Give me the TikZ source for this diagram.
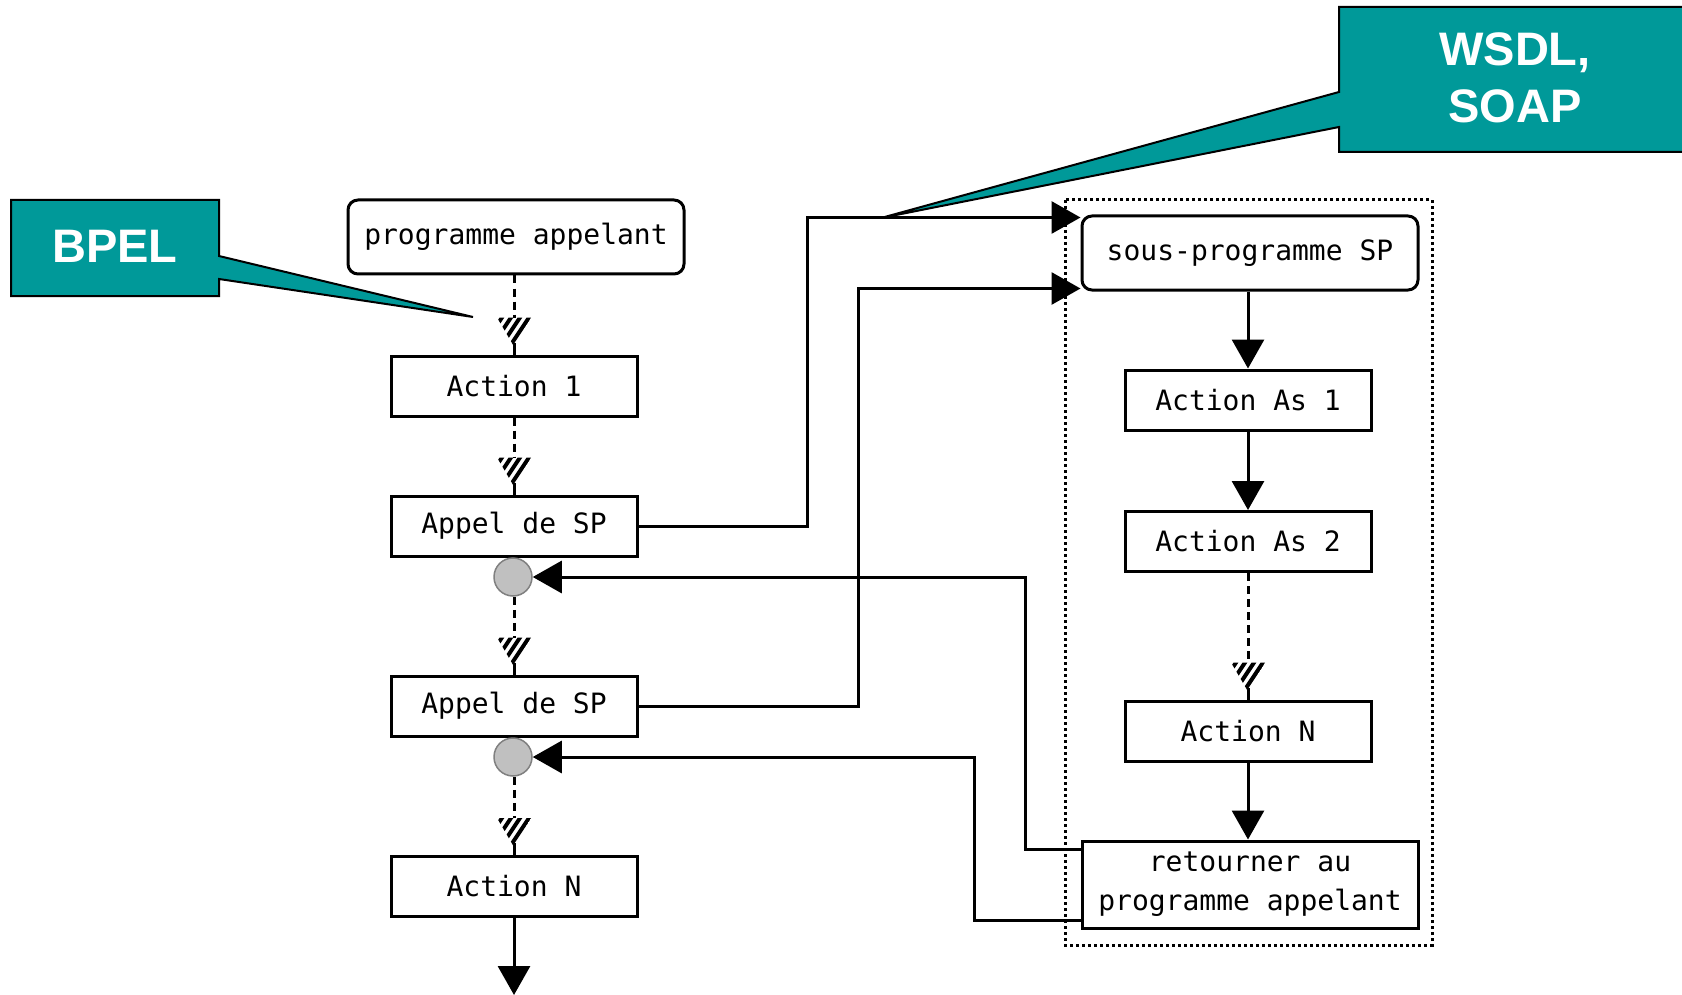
\documentclass[tikz,border=0pt]{standalone}
\usepackage{fontspec}
\setmainfont{Liberation Sans}
\newfontfamily\monof{DejaVu Sans Mono}
\usetikzlibrary{arrows.meta,calc}
\definecolor{tealc}{RGB}{0,153,153}
\definecolor{cgray}{RGB}{192,192,192}
\begin{document}
\begin{tikzpicture}[x={(1pt,0)},y={(0,-1pt)},
  box/.style={draw,line width=3pt,minimum width=246pt,minimum height=60pt,inner sep=0pt,
    font=\monof\fontsize{28}{39}\selectfont,align=center},
  rbox/.style={box,rounded corners=10pt,minimum width=336pt,minimum height=74pt},
  ln/.style={line width=3pt},
  dln/.style={line width=3pt,dash pattern=on 8pt off 5pt},
  arr/.style={line width=3pt,-{Triangle[length=29pt,width=32pt]}},
  dotc/.style={circle,fill=cgray,draw=gray,line width=1.5pt,minimum size=38pt,inner sep=0pt},
  callout/.style={fill=tealc,draw=black,line width=2pt},
  ctext/.style={text=white,font=\bfseries\fontsize{47}{57}\selectfont,align=center},
  hatchhead/.pic={
    \begin{scope}
      \clip (-17,-37) -- (17,-37) -- (0,-8) -- cycle;
      \foreach \k in {-34,-25,-16,-7,2,11}{
        \draw[line width=4pt] (\k,-4) -- (\k+24,-40);
      }
    \end{scope}
    \draw[line width=3pt] (0,-12) -- (0,0);
  }
]
\useasboundingbox (0,0) rectangle (1682,995);

% left column
\node[rbox] (prog) at (516,237) {programme appelant};
\node[box] (a1) at (514,386) {Action 1};
\node[box] (call1) at (514,526) {Appel de SP};
\node[dotc] (c1) at (513,577) {};
\node[box] (call2) at (514,706) {Appel de SP};
\node[dotc] (c2) at (513,757) {};
\node[box] (aN) at (514,886.5) {Action N};
\coordinate (endL) at (513,995);

% right column
\draw[line width=3pt,dash pattern=on 3pt off 3pt] (1065,200) rectangle (1432,945);
\node[rbox] (sp) at (1250,253) {sous-programme SP};
\node[box] (as1) at (1248,400) {Action As 1};
\node[box] (as2) at (1248,541.5) {Action As 2};
\node[box] (asN) at (1248,731) {Action N};
\node[box,minimum width=336pt,minimum height=87pt] (ret) at (1250,884.5) {retourner au\\programme appelant};

% left flow
\draw[dln] (prog.south -| a1.north) -- ($(a1.north)+(0,-37)$);
\pic at (a1.north) {hatchhead};
\draw[dln] (a1.south) -- ($(call1.north)+(0,-37)$);
\pic at (call1.north) {hatchhead};
\draw[dln] (c1.south -| call2.north) -- ($(call2.north)+(0,-37)$);
\pic at (call2.north) {hatchhead};
\draw[dln] (c2.south -| aN.north) -- ($(aN.north)+(0,-37)$);
\pic at (aN.north) {hatchhead};
\draw[arr] (aN.south) -- (aN.south |- endL);

% right flow
\draw[arr] (sp.south -| as1.north) -- (as1.north);
\draw[arr] (as1.south) -- (as2.north);
\draw[dln] (as2.south) -- ($(asN.north)+(0,-37)$);
\pic at (asN.north) {hatchhead};
\draw[arr] (asN.south) -- (asN.south |- ret.north);

% calls
\draw[arr] (call1.east) -- ++(169,0) |- ($(sp.north west)+(0,3)$);
\draw[arr] (call2.east) -- ++(220,0) |- ($(sp.south west)+(0,-3)$);
% returns
\draw[arr] ($(ret.north west)+(0,10)$) -- ++(-55,0) |- (c1.east);
\draw[arr] ($(ret.south west)+(0,-9)$) -- ++(-106,0) |- (c2.east);

% callouts
\draw[callout] (11,200) -- (219,200) -- (219,256) -- (473,317) -- (219,279) -- (219,296) -- (11,296) -- cycle;
\node[ctext] (bpel) at (115,246) {BPEL};
\draw[callout] (1339,7) -- (1692,7) -- (1692,152) -- (1339,152) -- (1339,127) -- (881,218) -- (1339,92) -- cycle;
\node[ctext] (wsdl) at (1515,78) {WSDL,\\SOAP};
\end{tikzpicture}
\end{document}
